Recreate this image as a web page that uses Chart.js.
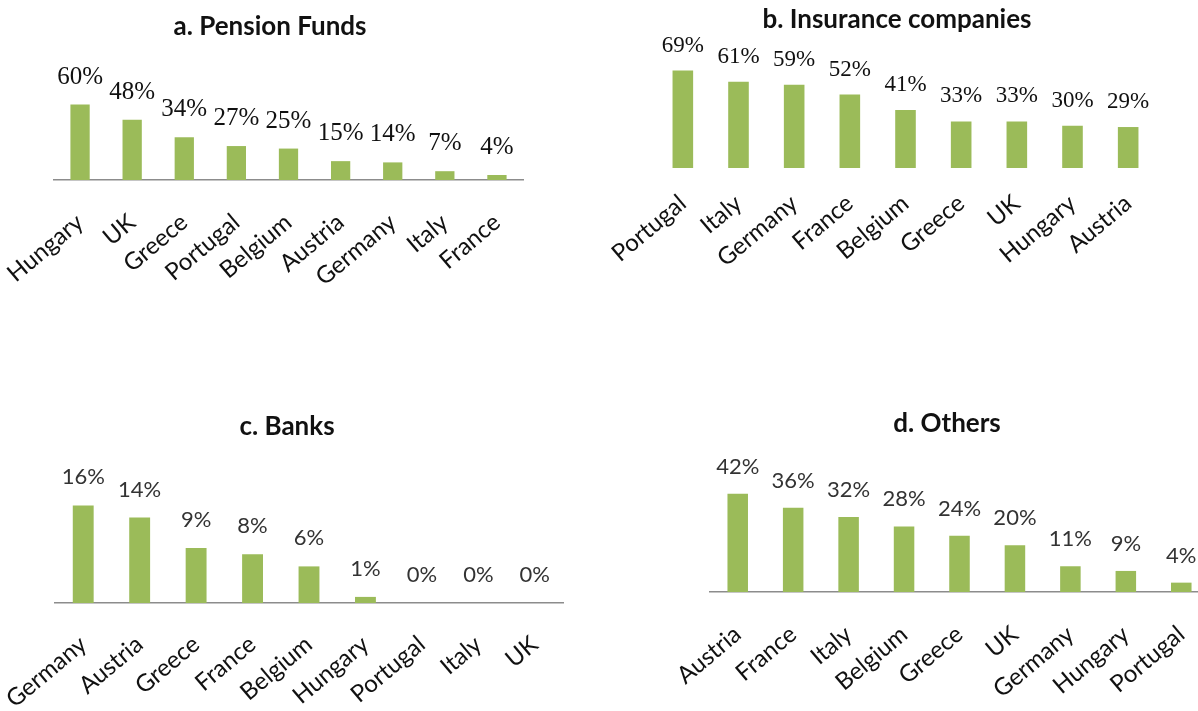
<!DOCTYPE html>
<html>
<head>
<meta charset="utf-8">
<script src="https://cdn.jsdelivr.net/npm/chart.js@4.4.1/dist/chart.umd.min.js"></script>
<style>
  html, body { margin: 0; padding: 0; background: #fff; overflow: hidden; width: 1198px; height: 711px; position: relative; }
  .panel { position: absolute; }
</style>
</head>
<body>
<div class="panel" style="left:0;top:0;width:599px;height:355px"><canvas id="pension"></canvas></div>
<div class="panel" style="left:599px;top:0;width:620px;height:355px"><canvas id="insurance"></canvas></div>
<div class="panel" style="left:0;top:355px;width:599px;height:420px"><canvas id="banks"></canvas></div>
<div class="panel" style="left:599px;top:355px;width:640px;height:420px"><canvas id="others"></canvas></div>
<script>
// data
const pensionCountries = ["Hungary", "UK", "Greece", "Portugal", "Belgium", "Austria", "Germany", "Italy", "France"];
const pensionShares = [60, 48, 34, 27, 25, 15, 14, 7, 4];

const insuranceCountries = ["Portugal", "Italy", "Germany", "France", "Belgium", "Greece", "UK", "Hungary", "Austria"];
const insuranceShares = [69, 61, 59, 52, 41, 33, 33, 30, 29];

const bankCountries = ["Germany", "Austria", "Greece", "France", "Belgium", "Hungary", "Portugal", "Italy", "UK"];
const bankShares = [16, 14, 9, 8, 6, 1, 0, 0, 0];

const otherCountries = ["Austria", "France", "Italy", "Belgium", "Greece", "UK", "Germany", "Hungary", "Portugal"];
const otherShares = [42, 36, 32, 28, 24, 20, 11, 9, 4];

const BAR_GREEN = "#9bbb59";
const AXIS_GREY = "#8c8c8c";
const AXIS_H = 160; // room for the slanted country names

Chart.defaults.font.family = "Lato, 'Noto Sans', sans-serif";

// title + "NN%" labels above each bar
function panelDecor(title, tx, ty, valueFont, valueColor, valueGap) {
    return {
        id: "panelDecor",
        afterDatasetsDraw(chart) {
            const ctx = chart.ctx;
            const meta = chart.getDatasetMeta(0);
            const vals = chart.data.datasets[0].data;
            ctx.save();
            ctx.font = valueFont;
            ctx.fillStyle = valueColor;
            ctx.textAlign = "center";
            ctx.textBaseline = "alphabetic";
            meta.data.forEach((bar, i) => {
                ctx.fillText(vals[i] + "%", bar.x, bar.y - valueGap);
            });
            ctx.font = "bold 26px Lato";
            ctx.fillStyle = "#111";
            ctx.textBaseline = "middle";
            ctx.fillText(title, tx, ty);
            ctx.restore();
        },
    };
}

function makeChart(id, labels, values, o) {
    return new Chart(document.getElementById(id), {
        type: "bar",
        data: {
            labels: labels,
            datasets: [
                {
                    data: values,
                    backgroundColor: BAR_GREEN,
                    borderWidth: 0,
                    barPercentage: 0.37,
                    categoryPercentage: 1,
                },
            ],
        },
        options: {
            responsive: true,
            maintainAspectRatio: false,
            animation: false,
            layout: { padding: o.pad },
            plugins: { legend: { display: false }, tooltip: { enabled: false } },
            scales: {
                x: {
                    grid: { display: false, drawTicks: false },
                    border: { display: o.axis, color: AXIS_GREY, width: 1.5 },
                    ticks: {
                        autoSkip: false,
                        minRotation: 40,
                        maxRotation: 40,
                        padding: o.tickPad,
                        color: "#111",
                        font: { size: 24 },
                    },
                    afterFit: (s) => {
                        // fixed axis band, and keep the plot edges where the padding puts them
                        s.height = AXIS_H;
                        s.paddingLeft = 0;
                        s.paddingRight = 0;
                    },
                },
                y: { display: false, min: 0, max: o.ymax },
            },
        },
        plugins: [panelDecor(o.title, o.tx, o.ty, o.valueFont, o.valueColor, o.gap)],
    });
}

makeChart("pension", pensionCountries, pensionShares, {
    title: "a. Pension Funds", tx: 270, ty: 27,
    pad: { left: 54, right: 76, top: 92, bottom: 355 - 180 - AXIS_H },
    ymax: 70, axis: true, tickPad: 28,
    valueFont: "25px 'Liberation Serif'", valueColor: "#111", gap: 21,
});
makeChart("insurance", insuranceCountries, insuranceShares, {
    title: "b. Insurance companies", tx: 298, ty: 20,
    pad: { left: 56, right: 63, top: 55, bottom: 355 - 168 - AXIS_H },
    ymax: 80, axis: false, tickPad: 21,
    valueFont: "23px 'Liberation Serif'", valueColor: "#111", gap: 19,
});
makeChart("banks", bankCountries, bankShares, {
    title: "c. Banks", tx: 287, ty: 72,
    pad: { left: 55, right: 36, top: 126, bottom: 420 - 248 - AXIS_H },
    ymax: 20, axis: true, tickPad: 27,
    valueFont: "22px Lato", valueColor: "#333", gap: 21,
});
makeChart("others", otherCountries, otherShares, {
    title: "d. Others", tx: 348, ty: 69,
    pad: { left: 111, right: 30, top: 120, bottom: 420 - 237 - AXIS_H },
    ymax: 50, axis: true, tickPad: 28,
    valueFont: "22px Lato", valueColor: "#333", gap: 20,
});
</script>
</body>
</html>
